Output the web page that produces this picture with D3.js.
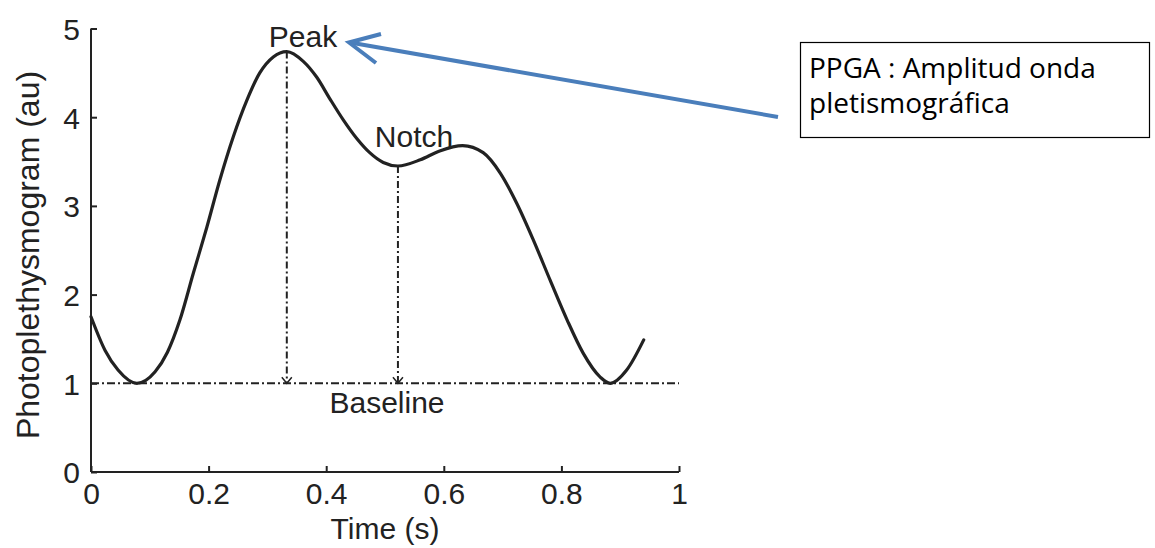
<!DOCTYPE html>
<html>
<head>
<meta charset="utf-8">
<script src="https://cdn.jsdelivr.net/npm/d3@7"></script>
<style>
html,body{margin:0;padding:0;background:#fff;}
svg{display:block;}
</style>
</head>
<body>
<svg id="chart" width="1155" height="548"></svg>
<script>
// ---- data ----
const timeValues = [0, 0.024, 0.046, 0.078, 0.109, 0.130, 0.151, 0.174, 0.197, 0.219, 0.242, 0.265, 0.287, 0.310, 0.333,
  0.361, 0.384, 0.406, 0.429, 0.452, 0.474, 0.497, 0.522, 0.560, 0.593, 0.632, 0.667, 0.696, 0.724, 0.752, 0.781,
  0.810, 0.837, 0.866, 0.883, 0.911, 0.940];
const ppgValues = [1.75, 1.37, 1.15, 1.0, 1.13, 1.35, 1.71, 2.24, 2.76, 3.29, 3.78, 4.19, 4.50, 4.68, 4.74,
  4.63, 4.45, 4.21, 3.97, 3.76, 3.60, 3.49, 3.45, 3.52, 3.62, 3.68, 3.60, 3.37, 3.03, 2.62, 2.16,
  1.71, 1.34, 1.07, 1.0, 1.15, 1.49];
const xTicks = [0, 0.2, 0.4, 0.6, 0.8, 1];
const yTicks = [0, 1, 2, 3, 4, 5];
const baselineValue = 1;
const markerNames = ["Peak", "Notch"];
const markerTimes = [0.333, 0.522];
const markerValues = [4.74, 3.45];
const boxLines = ["PPGA : Amplitud onda", "pletismográfica"];

// ---- layout ----
const svg = d3.select("#chart");
const x = d3.scaleLinear().domain([0, 1]).range([91, 679]);
const y = d3.scaleLinear().domain([0, 5]).range([472, 28.5]);
const ink = "#222";
const font = "'Liberation Sans', Arial, sans-serif";

// axes
const xAxis = d3.axisBottom(x).tickValues(xTicks).tickSize(-6).tickPadding(16)
  .tickFormat(d => d3.format("~g")(d));
const yAxis = d3.axisLeft(y).tickValues(yTicks).tickSize(-6).tickPadding(16)
  .tickFormat(d => d3.format("~g")(d));

const gx = svg.append("g").attr("transform", `translate(0,${y(0)})`).call(xAxis);
const gy = svg.append("g").attr("transform", `translate(${x(0)},0)`).call(yAxis);
[gx, gy].forEach(g => {
  g.select(".domain").attr("stroke", ink).attr("stroke-width", 2);
  g.selectAll(".tick line").attr("stroke", ink).attr("stroke-width", 2);
  g.selectAll(".tick text").attr("fill", ink).style("font-family", font).style("font-size", "30px");
});
gx.select(".domain").attr("d", `M${x(0)},0H${x(1)}`);
gy.select(".domain").attr("d", `M0,${y(0)}V${y(5)}`);
gy.selectAll(".tick text").attr("x", -11).attr("dy", "0.36em");
gx.selectAll(".tick text").attr("y", 11).attr("dy", "0.71em");

// axis titles
svg.append("text").attr("x", 385).attr("y", 539).attr("text-anchor", "middle")
  .style("font-family", font).style("font-size", "30px").attr("fill", ink).text("Time (s)");
svg.append("text").attr("transform", `translate(39,${(75 + 435) / 2}) rotate(-90)`)
  .attr("text-anchor", "middle")
  .style("font-family", font).style("font-size", "32px").attr("fill", ink).text("Photoplethysmogram (au)");

// baseline
svg.append("line")
  .attr("x1", x(0)).attr("x2", x(1)).attr("y1", y(baselineValue)).attr("y2", y(baselineValue))
  .attr("stroke", ink).attr("stroke-width", 2).attr("stroke-dasharray", "8,3,2,3");

// vertical markers
markerTimes.forEach((t, i) => {
  svg.append("line")
    .attr("x1", x(t)).attr("x2", x(t)).attr("y1", y(markerValues[i])).attr("y2", y(baselineValue))
    .attr("stroke", ink).attr("stroke-width", 2).attr("stroke-dasharray", "7,3,2,3");
  const bx = x(t), by = y(baselineValue);
  svg.append("path").attr("d", `M${bx - 5},${by - 6}L${bx},${by}L${bx + 5},${by - 6}`)
    .attr("fill", "none").attr("stroke", ink).attr("stroke-width", 1.5);
});

// curve
const line = d3.line().x((d, i) => x(timeValues[i])).y(d => y(d)).curve(d3.curveMonotoneX);
svg.append("path").datum(ppgValues).attr("d", line)
  .attr("fill", "none").attr("stroke", ink).attr("stroke-width", 3.2).attr("stroke-linecap", "round");

// labels
svg.append("text").attr("x", 303).attr("y", 47).attr("text-anchor", "middle")
  .style("font-family", font).style("font-size", "30px").attr("fill", ink).text(markerNames[0]);
svg.append("text").attr("x", 414).attr("y", 147).attr("text-anchor", "middle")
  .style("font-family", font).style("font-size", "30px").attr("fill", ink).text(markerNames[1]);
svg.append("text").attr("x", 387).attr("y", 413).attr("text-anchor", "middle")
  .style("font-family", font).style("font-size", "30px").attr("fill", ink).text("Baseline");

// arrow
const blue = "#4a7ebb";
svg.append("line").attr("x1", 778).attr("y1", 117).attr("x2", 350).attr("y2", 42.5)
  .attr("stroke", blue).attr("stroke-width", 4);
svg.append("path").attr("d", "M381,34L349,42.5L376,63")
  .attr("fill", "none").attr("stroke", blue).attr("stroke-width", 4).attr("stroke-linejoin", "miter");

// text box
svg.append("rect").attr("x", 800.5).attr("y", 42.5).attr("width", 349).attr("height", 95)
  .attr("fill", "#fff").attr("stroke", "#000").attr("stroke-width", 1.2);
boxLines.forEach((s, i) => {
  svg.append("text").attr("x", 809).attr("y", 78 + i * 35)
    .style("font-family", "'Open Sans', sans-serif").style("font-size", "28px").attr("fill", "#000").text(s);
});
</script>
</body>
</html>
